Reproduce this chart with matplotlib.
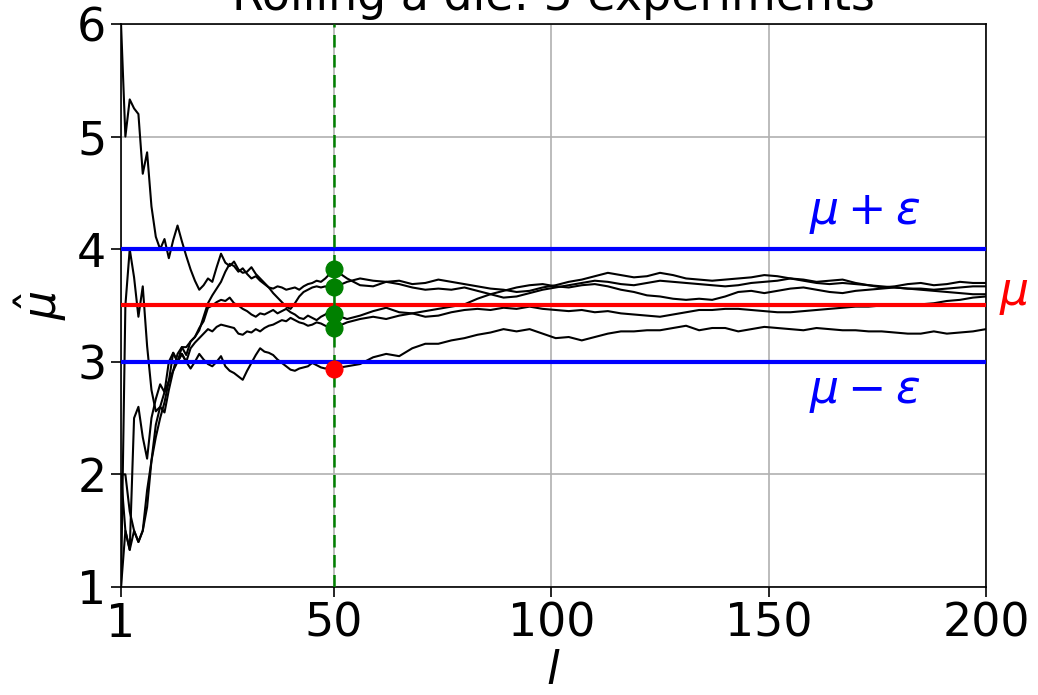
import numpy as np
import matplotlib
matplotlib.use("Agg")
import matplotlib.pyplot as plt

mu = 3.5
eps = 0.5
l_check = 50

# running means: every roll up to l=50, then every 3rd
l_early = np.arange(1, 51)
l_late = np.arange(53, 201, 3)

run1 = [6.00, 5.00, 5.33, 5.25, 5.20, 4.67, 4.86, 4.38, 4.11, 4.00,
        4.09, 3.92, 4.08, 4.21, 4.07, 3.94, 3.82, 3.72, 3.64, 3.68,
        3.74, 3.71, 3.84, 3.96, 3.88, 3.85, 3.89, 3.82, 3.79, 3.80,
        3.84, 3.78, 3.74, 3.70, 3.66, 3.61, 3.57, 3.53, 3.49, 3.47,
        3.52, 3.58, 3.62, 3.64, 3.66, 3.67, 3.66, 3.67, 3.65, 3.66,
        3.71, 3.74, 3.72, 3.71, 3.69, 3.66, 3.64, 3.65, 3.64, 3.66,
        3.63, 3.60, 3.57, 3.58, 3.61, 3.64, 3.66, 3.68, 3.70, 3.72,
        3.71, 3.69, 3.68, 3.70, 3.72, 3.71, 3.70, 3.69, 3.68, 3.67,
        3.68, 3.70, 3.71, 3.72, 3.74, 3.73, 3.71, 3.72, 3.73, 3.70,
        3.68, 3.66, 3.67, 3.69, 3.70, 3.68, 3.69, 3.71, 3.70, 3.70]

run2 = [1.00, 3.50, 4.00, 3.75, 3.40, 3.67, 3.14, 2.75, 2.56, 2.60,
        2.55, 2.75, 2.92, 3.07, 3.13, 3.06, 3.18, 3.22, 3.28, 3.40,
        3.52, 3.59, 3.65, 3.71, 3.80, 3.87, 3.85, 3.80, 3.83, 3.78,
        3.74, 3.76, 3.72, 3.69, 3.66, 3.65, 3.67, 3.66, 3.64, 3.65,
        3.66, 3.64, 3.67, 3.69, 3.70, 3.72, 3.71, 3.74, 3.78, 3.82,
        3.74, 3.68, 3.67, 3.71, 3.72, 3.69, 3.70, 3.73, 3.71, 3.69,
        3.67, 3.65, 3.64, 3.62, 3.63, 3.66, 3.68, 3.71, 3.73, 3.76,
        3.79, 3.77, 3.75, 3.76, 3.79, 3.77, 3.74, 3.73, 3.72, 3.73,
        3.74, 3.75, 3.77, 3.76, 3.74, 3.72, 3.70, 3.69, 3.70, 3.69,
        3.68, 3.67, 3.66, 3.65, 3.65, 3.64, 3.65, 3.66, 3.67, 3.67]

run3 = [2.00, 1.50, 1.33, 1.50, 1.40, 1.50, 1.86, 2.12, 2.44, 2.60,
        2.73, 2.83, 3.08, 3.00, 3.13, 3.13, 3.18, 3.22, 3.30, 3.36,
        3.48, 3.50, 3.53, 3.55, 3.54, 3.57, 3.52, 3.50, 3.47, 3.45,
        3.42, 3.40, 3.43, 3.42, 3.44, 3.46, 3.43, 3.45, 3.47, 3.44,
        3.42, 3.39, 3.38, 3.41, 3.39, 3.37, 3.40, 3.42, 3.45, 3.42,
        3.38, 3.41, 3.45, 3.48, 3.44, 3.43, 3.45, 3.47, 3.49, 3.51,
        3.56, 3.60, 3.63, 3.66, 3.68, 3.69, 3.67, 3.66, 3.68, 3.69,
        3.67, 3.64, 3.62, 3.59, 3.58, 3.56, 3.55, 3.56, 3.55, 3.58,
        3.62, 3.63, 3.61, 3.63, 3.65, 3.66, 3.64, 3.62, 3.61, 3.63,
        3.64, 3.65, 3.66, 3.65, 3.64, 3.63, 3.62, 3.61, 3.60, 3.60]

run4 = [1.00, 1.50, 1.33, 2.50, 2.60, 2.33, 2.14, 2.50, 2.67, 2.80,
        2.73, 3.00, 3.08, 3.00, 3.07, 3.00, 3.12, 3.17, 3.21, 3.25,
        3.29, 3.27, 3.31, 3.33, 3.32, 3.31, 3.30, 3.25, 3.24, 3.27,
        3.26, 3.29, 3.27, 3.30, 3.32, 3.33, 3.35, 3.37, 3.36, 3.39,
        3.37, 3.35, 3.34, 3.32, 3.33, 3.35, 3.34, 3.32, 3.31, 3.30,
        3.35, 3.38, 3.40, 3.38, 3.41, 3.43, 3.40, 3.41, 3.44, 3.46,
        3.47, 3.46, 3.48, 3.47, 3.49, 3.47, 3.46, 3.45, 3.46, 3.44,
        3.45, 3.43, 3.42, 3.41, 3.40, 3.42, 3.44, 3.46, 3.46, 3.47,
        3.47, 3.46, 3.45, 3.44, 3.44, 3.45, 3.46, 3.47, 3.48, 3.49,
        3.49, 3.50, 3.50, 3.51, 3.51, 3.52, 3.54, 3.55, 3.57, 3.58]

run5 = [2.00, 2.00, 1.67, 1.50, 1.40, 1.50, 1.71, 2.12, 2.33, 2.50,
        2.64, 2.83, 2.92, 3.00, 3.07, 3.00, 2.94, 3.00, 3.07, 3.02,
        2.98, 2.96, 3.00, 3.05, 2.96, 2.92, 2.90, 2.87, 2.84, 2.92,
        2.99, 3.06, 3.12, 3.09, 3.08, 3.06, 3.02, 2.99, 2.96, 2.93,
        2.92, 2.94, 2.95, 2.96, 2.99, 2.97, 2.95, 2.94, 2.96, 2.94,
        2.96, 2.98, 3.04, 3.07, 3.05, 3.12, 3.16, 3.16, 3.19, 3.21,
        3.24, 3.26, 3.29, 3.27, 3.29, 3.25, 3.21, 3.22, 3.19, 3.22,
        3.25, 3.27, 3.27, 3.28, 3.28, 3.30, 3.32, 3.28, 3.30, 3.30,
        3.27, 3.29, 3.31, 3.30, 3.29, 3.28, 3.30, 3.29, 3.28, 3.28,
        3.27, 3.27, 3.26, 3.25, 3.25, 3.27, 3.25, 3.26, 3.27, 3.29]

runs = [run1, run2, run3, run4, run5]
l = np.concatenate([l_early, l_late])

fs = 33
fig = plt.figure(figsize=(10.38, 6.95), dpi=100)
ax = fig.add_axes([0.1166, 0.1554, 0.8333, 0.8101])

for r in runs:
    ax.plot(l, r, color='black', lw=1.5, zorder=3)

ax.axhline(mu, color='r', lw=3, zorder=4)
ax.axhline(mu + eps, color='b', lw=3, zorder=4)
ax.axhline(mu - eps, color='b', lw=3, zorder=4)
ax.axvline(l_check, color='g', ls='--', lw=1.8, dashes=(5, 3), zorder=5)

for r in runs:
    v = r[l_check - 1]
    c = 'g' if abs(v - mu) <= eps else 'r'
    ax.plot(l_check, v, 'o', color=c, ms=12, zorder=6)

ax.text(172, mu + eps + 0.32, r'$\mu+\varepsilon$', color='b', fontsize=fs,
        ha='center', va='center')
ax.text(172, mu - eps - 0.27, r'$\mu-\varepsilon$', color='b', fontsize=fs,
        ha='center', va='center')
ax.text(203, mu + 0.1, r'$\mu$', color='r', fontsize=fs, ha='left', va='center',
        clip_on=False)

ax.set_xlim(1, 200)
ax.set_ylim(1, 6)
ax.set_xticks([1, 50, 100, 150, 200])
ax.set_yticks([1, 2, 3, 4, 5, 6])
ax.tick_params(labelsize=fs, length=7, width=1.2)
ax.grid(True, color='#b0b0b0', lw=1.2)
ax.set_axisbelow(True)
ax.set_xlabel(r'$l$', fontsize=fs, labelpad=2)
ax.set_ylabel(r'$\hat{\mu}$', fontsize=fs, labelpad=6)
ax.set_title('Rolling a die: 5 experiments', fontsize=fs, pad=10)
for s in ax.spines.values():
    s.set_linewidth(1.2)

fig.savefig('out.png', dpi=100)
